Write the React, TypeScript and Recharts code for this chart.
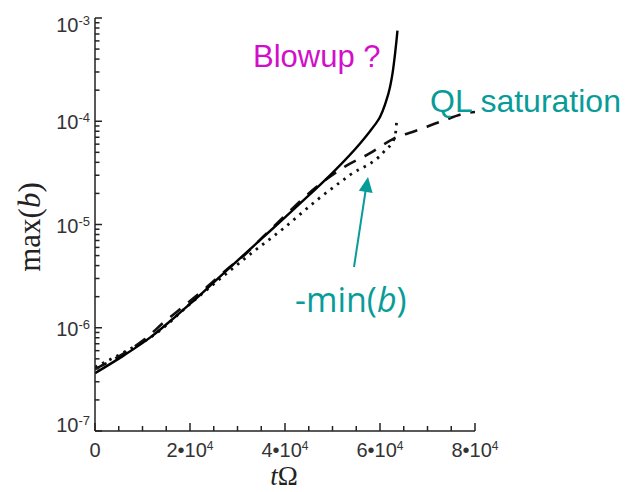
import { Line, LineChart, XAxis, YAxis } from 'recharts'

// max(b) vs t*Omega, three runs
const solidT = [0, 6000, 12000, 17000, 20000, 25000, 30000, 35000, 40000, 45000, 50000, 55800, 57900, 58950, 60000, 61050, 62100, 62630, 63160, 63470, 63680]
const solidB = [3.63e-7, 5.37e-7, 8.3e-7, 1.29e-6, 1.7e-6, 2.75e-6, 4.47e-6, 7.24e-6, 1.17e-5, 1.91e-5, 3.16e-5, 6.09e-5, 8.02e-5, 9.27e-5, 1.1e-4, 1.45e-4, 2.14e-4, 2.89e-4, 4.47e-4, 6.04e-4, 7.55e-4]

const dashT = [0, 6000, 10500, 14700, 19000, 23200, 27400, 31600, 35800, 39600, 45000, 52600, 57900, 62800, 67700, 73000, 78300, 80000]
const dashB = [3.98e-7, 5.62e-7, 7.76e-7, 1.15e-6, 1.66e-6, 2.4e-6, 3.55e-6, 5.13e-6, 7.94e-6, 1.17e-5, 2.0e-5, 3.63e-5, 4.9e-5, 6.76e-5, 8.13e-5, 1.0e-4, 1.2e-4, 1.23e-4]

const dotT = [0, 6000, 13000, 20000, 27000, 33300, 39600, 46700, 53700, 60700, 63150, 63550]
const dotB = [4.17e-7, 5.75e-7, 8.9e-7, 1.7e-6, 3.16e-6, 5.43e-6, 9.1e-6, 1.72e-5, 3.02e-5, 5.0e-5, 7.08e-5, 1.07e-4]

const xMajor = [0, 20000, 40000, 60000, 80000]
const xLabels = ['0', '2•10', '4•10', '6•10', '8•10']
const xTicks = [0, 5000, 10000, 15000, 20000, 25000, 30000, 35000, 40000, 45000, 50000, 55000, 60000, 65000, 70000, 75000, 80000]

const yMajor = [1e-7, 1e-6, 1e-5, 1e-4, 1e-3]
const yExp = ['-7', '-6', '-5', '-4', '-3']
const yTicks = yMajor.flatMap((d, i) => (i < yMajor.length - 1 ? [1, 2, 3, 4, 5, 6, 7, 8, 9].map((k) => k * d) : [d]))

const toRows = (ts: number[], bs: number[]) => ts.map((t, i) => ({ t, b: bs[i] }))
const solid = toRows(solidT, solidB)
const dashed = toRows(dashT, dashB)
const dotted = toRows(dotT, dotB)

const axisColor = '#222'
const labelFont = '"Liberation Sans", Arial, sans-serif'
const magenta = '#D10FCB'
const teal = '#089C98'

// ticks point into the box, like the original
function XTick(props: any) {
  const { x, y, payload, isTop } = props
  const i = xMajor.indexOf(payload.value)
  const len = i >= 0 ? 8 : 5
  const dir = isTop ? 1 : -1
  return (
    <g>
      <path d={`M${x},${y}V${y + dir * len}`} stroke={axisColor} strokeWidth={1.5} fill="none" />
      {!isTop && i >= 0 && (
        <text x={x} y={y + 26} textAnchor="middle" fontFamily={labelFont} fontSize={20} fill="#333">
          {xLabels[i]}
          {i > 0 && (
            <tspan dy={-7} fontSize={12}>
              4
            </tspan>
          )}
        </text>
      )}
    </g>
  )
}

function YTick(props: any) {
  const { x, y, payload, isRight } = props
  const i = yMajor.indexOf(payload.value)
  const len = i >= 0 ? 7 : 4.5
  const dir = isRight ? -1 : 1
  // first and last labels sit a little inside the box in the original
  const shift = i === 0 ? -7 : i === yMajor.length - 1 ? 6 : 0
  return (
    <g>
      <path d={`M${x},${y}H${x + dir * len}`} stroke={axisColor} strokeWidth={1.5} fill="none" />
      {!isRight && i >= 0 && (
        <text x={x - 5} y={y + 8 + shift} textAnchor="end" fontFamily={labelFont} fontSize={20} fill="#333">
          10
          <tspan dy={-7} fontSize={13}>
            {yExp[i]}
          </tspan>
        </text>
      )}
    </g>
  )
}

export default function App() {
  return (
    <div style={{ position: 'absolute', left: 0, top: 0, width: 630, height: 492, background: '#fff' }}>
      <LineChart width={630} height={492} margin={{ top: 18, right: 155, bottom: 0, left: 0 }}>
        <XAxis
          dataKey="t"
          type="number"
          domain={[0, 80000]}
          allowDataOverflow
          ticks={xTicks}
          interval={0}
          height={61}
          tickSize={0}
          tickMargin={0}
          tickLine={false}
          axisLine={{ stroke: axisColor, strokeWidth: 1.5 }}
          tick={(p: any) => <XTick {...p} />}
        />
        <XAxis
          xAxisId="top"
          orientation="top"
          dataKey="t"
          type="number"
          domain={[0, 80000]}
          allowDataOverflow
          ticks={xTicks}
          interval={0}
          height={0}
          tickSize={0}
          tickMargin={0}
          tickLine={false}
          axisLine={{ stroke: axisColor, strokeWidth: 1.5 }}
          tick={(p: any) => <XTick {...p} isTop />}
        />
        <YAxis
          type="number"
          scale="log"
          domain={[1e-7, 1e-3]}
          allowDataOverflow
          ticks={yTicks}
          interval={0}
          width={95}
          tickSize={0}
          tickMargin={0}
          tickLine={false}
          axisLine={{ stroke: axisColor, strokeWidth: 1.5 }}
          tick={(p: any) => <YTick {...p} />}
        />
        <YAxis
          yAxisId="right"
          orientation="right"
          type="number"
          scale="log"
          domain={[1e-7, 1e-3]}
          allowDataOverflow
          ticks={yTicks}
          interval={0}
          width={0}
          tickSize={0}
          tickMargin={0}
          tickLine={false}
          axisLine={{ stroke: axisColor, strokeWidth: 1.5 }}
          tick={(p: any) => <YTick {...p} isRight />}
        />
        <Line data={dotted} dataKey="b" type="monotone" stroke="#111" strokeWidth={2.8} strokeDasharray="2.5 5.5" dot={false} isAnimationActive={false} />
        <Line data={dashed} dataKey="b" type="monotone" stroke="#111" strokeWidth={2.6} strokeDasharray="13 10" dot={false} isAnimationActive={false} />
        <Line data={solid} dataKey="b" type="monotone" stroke="#000" strokeWidth={2.4} dot={false} isAnimationActive={false} />
      </LineChart>
      <svg width={630} height={492} style={{ position: 'absolute', left: 0, top: 0, pointerEvents: 'none' }}>
        <text x={40} y={227} transform="rotate(-90 40 227)" textAnchor="middle" fontFamily='"Liberation Serif", "Times New Roman", serif' fontSize={31} fill="#222">
          max(<tspan fontStyle="italic">b</tspan>)
        </text>
        <text x={284} y={485} textAnchor="middle" fontFamily='"Liberation Serif", "Times New Roman", serif' fontSize={27} fill="#222">
          <tspan fontStyle="italic">t</tspan>Ω
        </text>
        <text x={253} y={67} fontFamily={labelFont} fontSize={31} fill={magenta}>
          Blowup ?
        </text>
        <text x={430} y={112} fontFamily={labelFont} fontSize={32} fill={teal}>
          QL saturation
        </text>
        <text x={295} y={312} fontFamily='"Open Sans", sans-serif' fontSize={34} fill={teal}>
          -min(<tspan fontStyle="italic">b</tspan>)
        </text>
        <line x1={354} y1={267} x2={366} y2={188} stroke={teal} strokeWidth={2} />
        <polygon points="368,177 372.6,192.9 358.8,190.7" fill={teal} />
      </svg>
    </div>
  )
}
